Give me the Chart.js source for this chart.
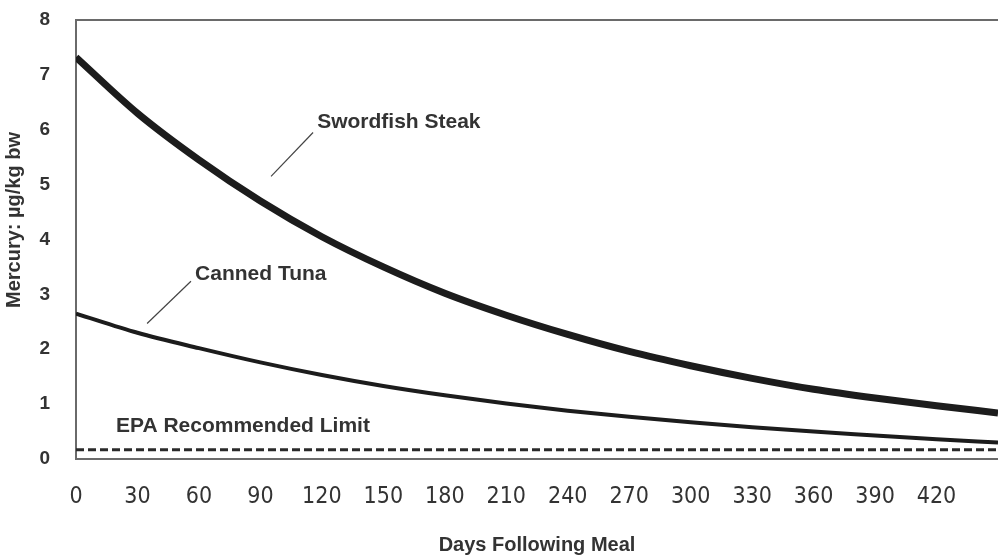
<!doctype html>
<html lang="en">
  <head>
    <meta charset="utf-8" />
    <title>Mercury after a meal</title>
    <style>
      html,
      body {
        margin: 0;
        padding: 0;
        background: #fff;
        overflow: hidden;
      }
      #chart {
        display: block;
      }
    </style>
    <script src="https://cdn.jsdelivr.net/npm/chart.js@4.4.1/dist/chart.umd.min.js"></script>
  </head>
  <body>
    <canvas id="chart" width="998" height="555"></canvas>
    <script>
      // days after the meal, sampled every 30 days
      const days = [0, 30, 60, 90, 120, 150, 180, 210, 240, 270, 300, 330, 360, 390, 420, 450];
      const swordfish = [7.32, 6.3, 5.45, 4.7, 4.05, 3.5, 3.02, 2.62, 2.27, 1.96, 1.7, 1.47, 1.27, 1.11, 0.97, 0.84];
      const cannedTuna = [2.65, 2.3, 2.02, 1.76, 1.53, 1.33, 1.16, 1.01, 0.88, 0.77, 0.67, 0.58, 0.5, 0.43, 0.36, 0.3];
      const epaLimit = 0.17;

      const xTickLabels = [0, 30, 60, 90, 120, 150, 180, 210, 240, 270, 300, 330, 360, 390, 420];
      const yTickLabels = [0, 1, 2, 3, 4, 5, 6, 7, 8];

      const TEXT = "#333333";
      const INK = "#1c1c1c";
      const AXIS = "#6a6a6a";
      const SANS = "'Liberation Sans', Arial, Helvetica, sans-serif";
      const NARROW = "'Liberation Sans Narrow', 'Arial Narrow', 'DejaVu Sans Condensed', 'Liberation Sans', sans-serif";

      const toPoints = (vals) => days.map((d, i) => ({ x: d, y: vals[i] }));

      // labels with leader lines, anchored in data units
      const notes = [
        { text: "Swordfish Steak", from: [95.2, 5.15], to: [115.7, 5.95], at: [117.7, 6.13] },
        { text: "Canned Tuna", from: [34.7, 2.47], to: [56.1, 3.24], at: [58.1, 3.36] },
        { text: "EPA Recommended Limit", at: [19.5, 0.6] }
      ];

      const decorations = {
        id: "decorations",
        afterDraw(chart) {
          const { ctx, chartArea, scales } = chart;
          const x = scales.x;
          const y = scales.y;
          ctx.save();

          // top frame line
          ctx.strokeStyle = AXIS;
          ctx.lineWidth = 2;
          ctx.beginPath();
          ctx.moveTo(chartArea.left, chartArea.top);
          ctx.lineTo(chartArea.right, chartArea.top);
          ctx.stroke();

          // leader lines + labels
          ctx.font = "bold 21px " + SANS;
          ctx.fillStyle = TEXT;
          ctx.textBaseline = "middle";
          ctx.textAlign = "left";
          notes.forEach((n) => {
            if (n.from) {
              ctx.strokeStyle = "#444";
              ctx.lineWidth = 1.2;
              ctx.beginPath();
              ctx.moveTo(x.getPixelForValue(n.from[0]), y.getPixelForValue(n.from[1]));
              ctx.lineTo(x.getPixelForValue(n.to[0]), y.getPixelForValue(n.to[1]));
              ctx.stroke();
            }
            ctx.fillText(n.text, x.getPixelForValue(n.at[0]), y.getPixelForValue(n.at[1]));
          });

          // axis titles
          ctx.font = "bold 20px " + SANS;
          ctx.textAlign = "center";
          ctx.fillText("Days Following Meal", (chartArea.left + chartArea.right) / 2, 545);

          ctx.translate(14, 220);
          ctx.rotate(-Math.PI / 2);
          ctx.fillText("Mercury: \u00b5g/kg bw", 0, 0);
          ctx.restore();
        }
      };

      new Chart(document.getElementById("chart"), {
        type: "line",
        data: {
          datasets: [
            {
              label: "Swordfish Steak",
              data: toPoints(swordfish),
              borderColor: INK,
              borderWidth: 7,
              pointRadius: 0,
              cubicInterpolationMode: "monotone"
            },
            {
              label: "Canned Tuna",
              data: toPoints(cannedTuna),
              borderColor: INK,
              borderWidth: 4,
              pointRadius: 0,
              cubicInterpolationMode: "monotone"
            },
            {
              label: "EPA Recommended Limit",
              data: [
                { x: days[0], y: epaLimit },
                { x: days[days.length - 1], y: epaLimit }
              ],
              borderColor: "#2a2a2a",
              borderWidth: 3,
              borderDash: [8, 4],
              pointRadius: 0
            }
          ]
        },
        options: {
          responsive: false,
          animation: false,
          layout: { padding: { top: 20, right: 0, bottom: 0, left: 0 } },
          plugins: {
            legend: { display: false },
            tooltip: { enabled: false }
          },
          scales: {
            x: {
              type: "linear",
              min: days[0],
              max: days[days.length - 1],
              grid: { display: false },
              border: { display: true, color: AXIS, width: 2 },
              afterBuildTicks: (scale) => {
                scale.ticks = xTickLabels.map((v) => ({ value: v }));
              },
              afterFit: (scale) => {
                scale.height = 96;
                scale.paddingLeft = 0;
                scale.paddingRight = 0;
              },
              ticks: {
                autoSkip: false,
                maxRotation: 0,
                padding: 16,
                color: TEXT,
                font: { family: NARROW, size: 23 }
              }
            },
            y: {
              min: 0,
              max: 8,
              grid: { display: false },
              border: { display: true, color: AXIS, width: 2 },
              afterBuildTicks: (scale) => {
                scale.ticks = yTickLabels.map((v) => ({ value: v }));
              },
              afterFit: (scale) => {
                scale.width = 76;
                scale.paddingTop = 0;
                scale.paddingBottom = 0;
              },
              ticks: {
                padding: 18,
                color: TEXT,
                font: { family: SANS, size: 19, weight: "bold" }
              }
            }
          }
        },
        plugins: [decorations]
      });
    </script>
  </body>
</html>
